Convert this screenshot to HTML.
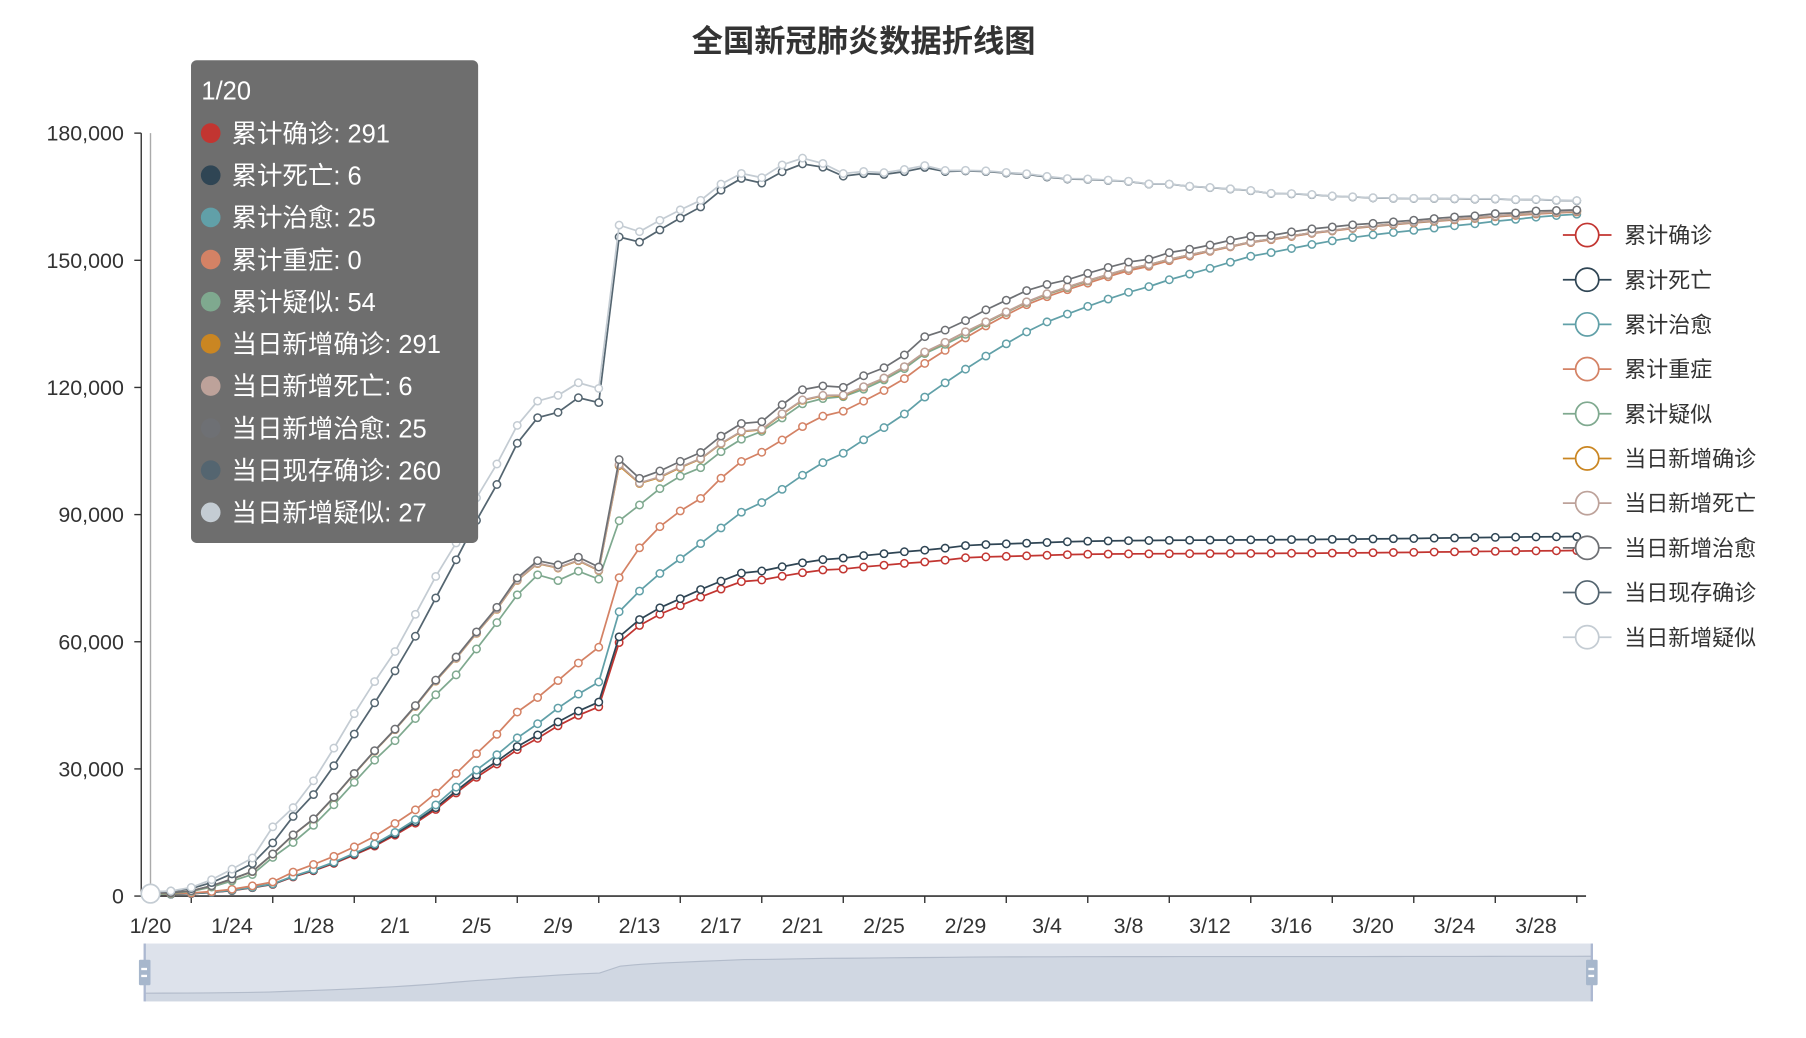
<!DOCTYPE html>
<html><head><meta charset="utf-8"><style>
html,body{margin:0;padding:0;background:#fff;}
svg{display:block;font-family:"Liberation Sans","Noto Sans CJK SC",sans-serif;}
</style></head><body>
<svg id="chart" width="1806" height="1038" viewBox="0 0 1560 896.6" preserveAspectRatio="none" xmlns="http://www.w3.org/2000/svg">
<text x="746" y="45" text-anchor="middle" font-size="27" font-weight="bold" fill="#333">全国新冠肺炎数据折线图</text>
<g id="axes"></g><g id="series"></g><g id="legend"></g><g id="zoom"></g><g id="tip"></g>
</svg>
<script>
const seriesNames=["累计确诊","累计死亡","累计治愈","累计重症","累计疑似","当日新增确诊","当日新增死亡","当日新增治愈","当日现存确诊","当日新增疑似"];
const colors=["#c23531","#2f4554","#61a0a8","#d48265","#7fa98f","#ca8622","#bda29a","#6e7074","#546570","#c4ccd3"];
const monthLens=[["1",20,31],["2",1,29],["3",1,30]];
const yTicks=[0,30000,60000,90000,120000,150000,180000];
const sC=[291,440,571,830,1287,1975,2744,4515,5974,7711,9692,11791,14380,17205,20438,24324,28018,31161,34546,37198,40171,42638,44653,59804,63851,66492,68500,70548,72436,74185,74576,75465,76288,76936,77150,77658,78064,78497,78824,79251,79824,80026,80151,80270,80409,80552,80651,80695,80735,80754,80778,80793,80813,80824,80844,80860,80881,80894,80928,80967,81008,81054,81093,81171,81218,81285,81340,81394,81439,81470,81518];
const sD=[6,9,17,25,41,56,80,106,132,170,213,259,304,361,425,490,563,636,722,811,908,1016,1113,1367,1380,1523,1665,1770,1868,2004,2118,2236,2345,2442,2592,2663,2715,2744,2788,2835,2870,2912,2943,2981,3012,3042,3070,3097,3119,3136,3158,3169,3176,3189,3199,3213,3226,3237,3245,3248,3255,3261,3270,3277,3281,3287,3292,3295,3300,3304,3305];
const sR=[25,28,28,34,38,49,51,60,103,124,171,243,328,475,632,892,1153,1540,2050,2649,3281,3996,4740,5911,6723,8096,9419,10844,12552,14376,16155,18264,20659,22888,24734,27323,29745,32495,36117,39002,41625,44462,47204,49856,52045,53726,55404,57065,58600,59897,61475,62793,64111,65541,66911,67749,68679,69601,70420,71150,71740,72244,72703,73159,73650,74051,74588,74971,75448,75790,76052];
const sS=[0,102,95,177,237,324,461,976,1239,1370,1527,1795,2110,2296,2788,3219,3859,4821,6101,6188,6484,7333,8204,8030,10204,11053,11272,10644,11741,11977,11864,11633,11477,10968,9915,9126,8752,8346,7952,7664,7365,7110,6806,6416,5952,5737,5489,5264,5111,4794,4492,4257,4020,3610,3226,3032,2830,2622,2314,2136,1963,1845,1749,1573,1399,1235,1034,921,742,633,528];
const sQ=[54,37,393,1072,1965,2684,5794,6973,9239,12167,15238,17988,19544,21558,23214,23260,24702,26359,27657,28942,23589,21675,16067,13435,10109,8969,8228,7264,6242,5248,4922,5206,5365,4148,3434,2824,2491,2358,2308,1418,851,715,587,520,522,482,502,458,421,349,285,253,147,115,113,134,128,119,105,104,106,118,136,132,134,153,155,157,189,174,172];
const sNC=[291,149,131,259,444,688,769,1771,1459,1737,1982,2102,2590,2829,3235,3887,3694,3143,3385,2652,2973,2467,2015,13000,5090,2641,2008,2048,1886,1749,391,889,823,648,214,508,406,433,327,427,573,202,125,119,139,143,99,44,40,19,24,15,20,11,20,16,21,13,34,39,41,46,39,78,47,67,55,54,45,31,48];
const sND=[6,3,8,8,16,15,24,26,26,38,43,46,45,57,64,65,73,73,86,89,97,108,97,254,121,143,142,105,98,136,114,118,109,97,150,71,52,29,44,47,35,42,31,38,31,30,28,27,22,17,22,11,7,13,10,14,13,11,8,3,7,6,9,7,4,6,5,3,5,4,1];
const sNR=[25,3,0,6,4,11,2,9,43,21,47,72,85,147,157,262,261,387,510,600,632,716,744,1171,1081,1373,1323,1425,1701,1824,1779,2109,2393,2231,1846,2589,2422,2750,3622,2885,2623,2837,2742,2652,2189,1681,1678,1661,1535,1297,1578,1318,1318,1430,1370,838,930,922,819,730,590,504,459,456,491,401,537,383,477,342,262];
const sE=[260,403,526,771,1208,1870,2613,4349,5739,7417,9308,11289,13748,16369,19381,22942,26302,28985,31774,33738,35982,37626,38800,52526,55748,56873,57416,57934,58016,57805,56303,54965,53284,51606,49824,47672,45604,43258,39919,37414,35329,32652,30004,27433,25352,23784,22177,20533,19016,17721,16145,14831,13526,12094,10734,9898,8976,8056,7263,6569,6013,5549,5120,4735,4287,3947,3460,3128,2691,2396,2161];
const sNQ=[27,26,257,680,1118,1309,3806,2077,3248,4148,4812,5019,4562,5173,5072,3971,5328,4833,4214,3916,4008,3536,3342,2807,2450,2277,1918,1563,1432,1185,1277,1614,1361,882,620,530,439,508,452,248,132,141,129,143,143,102,99,84,60,36,31,33,33,45,39,41,45,45,39,41,46,47,40,56,56,58,51,36,41,51,55];
const allSeries=[sC,sD,sR,sS,sQ,sNC,sND,sNR,sE,sNQ];

const NS="http://www.w3.org/2000/svg";
function mk(tag,attrs,parent,txt){const e=document.createElementNS(NS,tag);for(const k in attrs)e.setAttribute(k,attrs[k]);if(txt!==undefined)e.textContent=txt;parent.appendChild(e);return e;}
const categories=[];
monthLens.forEach(m=>{for(let d=m[1];d<=m[2];d++)categories.push(m[0]+"/"+d);});
const N=categories.length;
const X0=130,X1=1362,Y0=774,Y1=115,YMAX=180000;
const xs=i=>X0+(X1-X0)*i/(N-1);
const ys=v=>Y0-(Y0-Y1)*v/YMAX;
const axes=document.getElementById('axes');
yTicks.forEach(t=>{
  const y=ys(t);
  const l=mk('line',{x1:116,x2:122,y1:y,y2:y,stroke:'#333','stroke-width':1.2},axes);
  
  
  const tx=mk('text',{x:107,y:y+6.5,'text-anchor':'end','font-size':18.5,fill:'#333'},axes,t.toLocaleString('en-US'));
  
  
});
const yl=mk('line',{x1:122,x2:122,y1:Y1,y2:Y0,stroke:'#333','stroke-width':1.2},axes);


const xl=mk('line',{x1:122,x2:1370,y1:Y0,y2:Y0,stroke:'#333','stroke-width':1.5},axes);


for(let i=2;i<N;i+=4){const x=xs(i);const t=mk('line',{x1:x,x2:x,y1:Y0,y2:Y0+6,stroke:'#333','stroke-width':1.2},axes);
  
  }
for(let i=0;i<N;i+=4){const t=mk('text',{x:xs(i),y:806,'text-anchor':'middle','font-size':18.5,fill:'#333'},axes,categories[i]);
  
  }
const ap=mk('line',{x1:xs(0),x2:xs(0),y1:Y1,y2:Y0,stroke:'#aaa','stroke-width':1.2},axes);



const sg=document.getElementById('series');
const cum=new Array(N).fill(0);
allSeries.forEach((arr,si)=>{
  const g=mk('g',{},sg);
  
  
  const pts=[];
  for(let i=0;i<N;i++){cum[i]+=(arr[i]||0);pts.push([xs(i),ys(cum[i])]);}
  const pl=mk('polyline',{points:pts.map(p=>p.join(',')).join(' '),fill:'none',stroke:colors[si],'stroke-width':1.5},g);
  
  
  pts.forEach(p=>{const c=mk('circle',{cx:p[0],cy:p[1],r:3.2,fill:'#fff',stroke:colors[si],'stroke-width':1.3},g);
    
    });
});
const hl=mk('circle',{cx:xs(0),cy:ys(sC[0])-1,r:8,fill:'#fff',stroke:'#c4ccd3','stroke-width':1.5},sg);



const lg=document.getElementById('legend');
seriesNames.forEach((n,i)=>{
  const y=203+i*38.6;
  const g=mk('g',{},lg);
  
  
  mk('line',{x1:1350,x2:1392,y1:y,y2:y,stroke:colors[i],'stroke-width':1.5},g);
  mk('circle',{cx:1371,cy:y,r:10,fill:'#fff',stroke:colors[i],'stroke-width':1.5},g);
  mk('text',{x:1403,y:y+7,'font-size':19,fill:'#333'},g,n);
});

const zg=document.getElementById('zoom');
const zb=mk('rect',{x:125,y:815,width:1250,height:50,fill:'#dde2eb'},zg);


const zmax=Math.max(...sC);
const zx=i=>125+1250*i/(N-1), zy=v=>858-32*v/zmax;
let d='M125,865';
for(let i=0;i<N;i++)d+=' L'+zx(i)+','+zy(sC[i]);
d+=' L1375,865 Z';
const za=mk('path',{d:d,fill:'#d0d7e2',stroke:'none'},zg);


let d2='';for(let i=0;i<N;i++)d2+=(i?' L':'M')+zx(i)+','+zy(sC[i]);
mk('path',{d:d2,fill:'none',stroke:'#b3bccb','stroke-width':1},zg);
[125,1375].forEach((x,k)=>{
  mk('line',{x1:x,x2:x,y1:815,y2:865,stroke:'#acb8d1','stroke-width':2},zg);
  const h=mk('rect',{x:x-5,y:829,width:10,height:22,rx:1,fill:'#a7b7cc'},zg);
  
  
  mk('rect',{x:x-3,y:836,width:5,height:2,fill:'#fff'},zg);
  mk('rect',{x:x-3,y:842,width:5,height:2,fill:'#fff'},zg);
});

const tg=document.getElementById('tip');
const tbox=mk('rect',{x:165,y:52,width:248,height:417,rx:5,fill:'#6e6e6e'},tg);


mk('text',{x:174,y:86,'font-size':22,fill:'#fff'},tg,categories[0]);
seriesNames.forEach((n,i)=>{
  const y=115+i*36.4;
  mk('circle',{cx:182,cy:y,r:8.5,fill:colors[i]},tg);
  const t=mk('text',{x:200,y:y+8,'font-size':22,fill:'#fff'},tg,n+': '+allSeries[i][0]);
  
  
});
</script>
</body></html>
